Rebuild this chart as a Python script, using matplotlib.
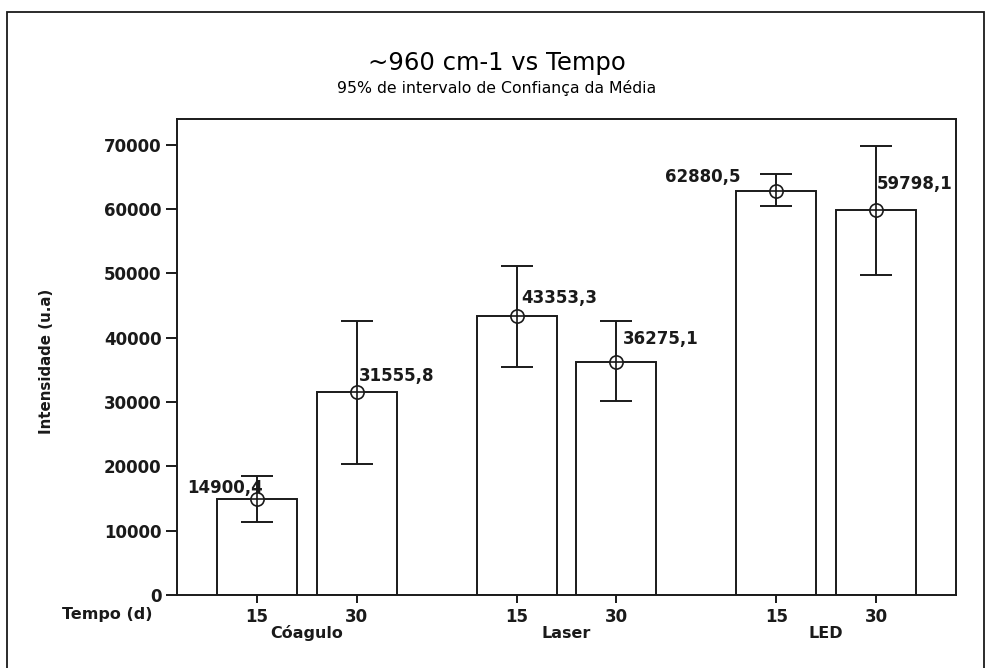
import numpy as np
import matplotlib
matplotlib.use("Agg")
import matplotlib.pyplot as plt
from matplotlib.patches import Rectangle
import matplotlib.transforms as mtransforms

# data
groups = ["Cóagulo", "Laser", "LED"]
tempo = ["15", "30", "15", "30", "15", "30"]
means = [14900.4, 31555.8, 43353.3, 36275.1, 62880.5, 59798.1]
ci_lo = [11310, 20420, 35510, 30120, 60540, 49770]
ci_hi = [18550, 42570, 51170, 42570, 65430, 69780]
labels = ["14900,4", "31555,8", "43353,3", "36275,1", "62880,5", "59798,1"]

# label placement relative to each mean (points), alignment
lab_off = [(4.3, 7.9), (1.4, 11.5), (3.6, 13), (4.3, 16.5), (-26, 10), (0.7, 19)]
lab_ha = ["right", "left", "left", "left", "right", "left"]

pos = np.array([0, 1, 2.6, 3.6, 5.2, 6.2])
group_pos = [(pos[0] + pos[1]) / 2, (pos[2] + pos[3]) / 2, (pos[4] + pos[5]) / 2]

ink = "#1a1a1a"
lw = 1.4
fs = 12

fig = plt.figure(figsize=(9.89, 6.68), dpi=100)
ax = fig.add_axes([177 / 989, 1 - 595 / 668, (956 - 177) / 989, (595 - 119) / 668])

# outer frame (open at bottom like the source)
fig.patches.append(Rectangle((7 / 989, -0.1), (984 - 7) / 989, 1.1 - 12 / 668,
                             transform=fig.transFigure, fill=False,
                             edgecolor=ink, linewidth=1.3))

ax.bar(pos, means, width=0.8, color="white", edgecolor=ink, linewidth=lw, zorder=2)

means_a = np.array(means)
yerr = [means_a - np.array(ci_lo), np.array(ci_hi) - means_a]
ax.errorbar(pos, means, yerr=yerr, fmt="none", ecolor=ink, elinewidth=lw,
            capsize=11.5, capthick=lw, zorder=3)
ax.plot(pos, means, "o", ms=9.5, mfc="white", mec=ink, mew=1.2, zorder=4)
ax.plot(pos, means, "+", ms=9.5, mec=ink, mew=1.2, zorder=5)

for x, m, t, off, ha in zip(pos, means, labels, lab_off, lab_ha):
    ax.annotate(t, (x, m), xytext=off, textcoords="offset points",
                ha=ha, va="center", fontsize=fs, fontweight="bold", color=ink, zorder=6)

ax.set_xlim(-0.8, 7.0)
ax.set_ylim(0, 74000)
ax.set_yticks(np.arange(0, 70001, 10000))
ax.set_yticklabels([str(v) for v in range(0, 70001, 10000)])
ax.set_xticks(pos)
ax.set_xticklabels(tempo)

for s in ax.spines.values():
    s.set_linewidth(lw)
    s.set_color(ink)
ax.tick_params(axis="y", direction="out", length=8, width=lw, color=ink,
               labelsize=fs, pad=3, labelcolor=ink)
ax.tick_params(axis="x", direction="out", length=6, width=lw, color=ink,
               labelsize=fs, pad=3, labelcolor=ink)
for lbl in ax.get_xticklabels() + ax.get_yticklabels():
    lbl.set_fontweight("bold")

ax.set_ylabel("Intensidade (u.a)", fontsize=10.8, fontweight="bold", color=ink, labelpad=0)
ax.yaxis.set_label_coords(-0.158, 0.49)

trans = mtransforms.blended_transform_factory(ax.transData, ax.transAxes)
for gp, g in zip(group_pos, groups):
    ax.text(gp, -0.08, g, transform=trans, ha="center", va="center",
            fontsize=11.5, fontweight="bold", color=ink)
ax.text(-0.089, -0.04, "Tempo (d)", transform=ax.transAxes, ha="center", va="center",
        fontsize=11.5, fontweight="bold", color=ink)

fig.text(0.5025, 1 - 63 / 668, "~960 cm-1 vs Tempo", ha="center", va="center",
         fontsize=17.5, color="black")
fig.text(0.5025, 1 - 88 / 668, "95% de intervalo de Confiança da Média", ha="center",
         va="center", fontsize=11.3, color="black")

fig.savefig("out.png", dpi=100)
